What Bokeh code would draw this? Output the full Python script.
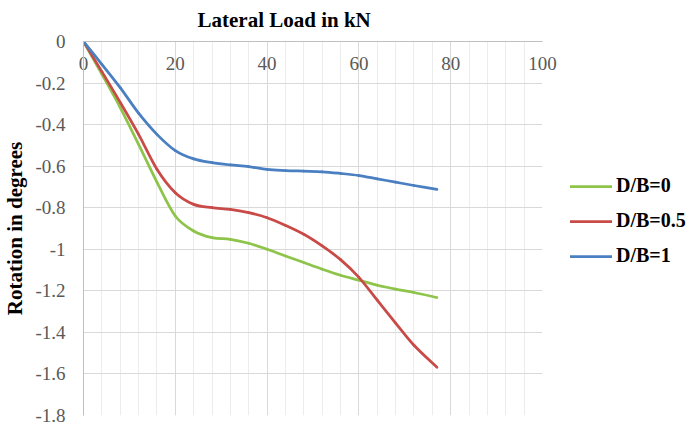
import numpy as np
from bokeh.plotting import figure
from bokeh.models import FixedTicker, Range1d, Legend, LegendItem
from bokeh.embed import file_html
from bokeh.resources import INLINE

# Lateral load (kN) at which rotations were read
load_kn = [0, 4, 8, 12, 16, 20, 24, 28, 32, 36, 40, 44, 48, 52, 56, 60, 64, 68, 72, 77]

# Rotation in degrees for each embedment ratio
rot_db0 = [0, -0.157, -0.318, -0.495, -0.677, -0.84, -0.912, -0.944, -0.952, -0.971,
           -1.0, -1.032, -1.064, -1.096, -1.125, -1.149, -1.173, -1.192, -1.208, -1.232]
rot_db05 = [0, -0.145, -0.293, -0.447, -0.615, -0.728, -0.784, -0.80, -0.808, -0.824,
            -0.848, -0.885, -0.928, -0.984, -1.05, -1.135, -1.245, -1.355, -1.462, -1.568]
rot_db1 = [0, -0.11, -0.222, -0.345, -0.447, -0.525, -0.565, -0.583, -0.594, -0.602,
           -0.616, -0.621, -0.624, -0.627, -0.635, -0.645, -0.661, -0.677, -0.693, -0.712]

series_names = ["D/B=0", "D/B=0.5", "D/B=1"]
series_colors = ["#8ec44a", "#c84b48", "#4a7fc1"]

x_ticks = [0, 20, 40, 60, 80, 100]
x_tick_labels = ["0", "20", "40", "60", "80", "100"]
x_minor = list(range(0, 101, 4))
y_ticks = [0, -0.2, -0.4, -0.6, -0.8, -1.0, -1.2, -1.4, -1.6, -1.8]
y_tick_labels = ["0", "-0.2", "-0.4", "-0.6", "-0.8", "-1", "-1.2", "-1.4", "-1.6", "-1.8"]

SERIF = "Liberation Serif"


def smooth_segments(xs, ys):
    """Cubic Bezier pieces through the points (Catmull-Rom style smoothing)."""
    x = np.asarray(xs, float)
    y = np.asarray(ys, float)
    xp = np.concatenate([[x[0]], x, [x[-1]]])
    yp = np.concatenate([[y[0]], y, [y[-1]]])
    n = len(x) - 1
    seg = dict(x0=x[:-1], y0=y[:-1], x1=x[1:], y1=y[1:])
    seg["cx0"] = x[:-1] + (xp[2:n + 2] - xp[0:n]) / 6.0
    seg["cy0"] = y[:-1] + (yp[2:n + 2] - yp[0:n]) / 6.0
    seg["cx1"] = x[1:] - (xp[3:n + 3] - xp[1:n + 1]) / 6.0
    seg["cy1"] = y[1:] - (yp[3:n + 3] - yp[1:n + 1]) / 6.0
    return seg


p = figure(frame_width=459, frame_height=374,
           min_border_left=83, min_border_right=147, min_border_top=41, min_border_bottom=12,
           x_range=Range1d(0, 100), y_range=Range1d(-1.8, 0),
           x_axis_location="above",
           output_backend="svg", toolbar_location=None,
           background_fill_color="white", border_fill_color="white")
p.outline_line_color = None

# title
p.title.text = "Lateral Load in kN"
p.title.text_font = SERIF
p.title.text_font_size = "21px"
p.title.text_font_style = "bold"
p.title.text_color = "black"
p.title.align = "left"
p.title.vertical_align = "top"
p.title.offset = 114
p.title.standoff = 15

# x axis along the zero line at the top; labels hang just below it
x_ticker = FixedTicker(ticks=x_ticks, minor_ticks=x_minor)
p.xaxis.ticker = x_ticker
p.xaxis.major_label_overrides = {t: l for t, l in zip(x_ticks, x_tick_labels)}
p.xaxis.major_label_text_font = SERIF
p.xaxis.major_label_text_font_size = "19px"
p.xaxis.major_label_text_color = "#595959"
p.xaxis.major_tick_line_color = None
p.xaxis.minor_tick_line_color = None
p.xaxis.major_tick_out = 0
p.xaxis.major_tick_in = 0
p.xaxis.major_label_standoff = -32
p.xaxis.axis_line_color = "#bfbfbf"
p.xgrid.ticker = x_ticker
p.xgrid.grid_line_color = "#d9d9d9"
p.xgrid.grid_line_width = 1
p.xgrid.minor_grid_line_color = "#ececec"
p.xgrid.minor_grid_line_width = 1

# y axis
y_ticker = FixedTicker(ticks=y_ticks, minor_ticks=[])
p.yaxis.ticker = y_ticker
p.ygrid.ticker = y_ticker
p.ygrid.grid_line_color = "#d9d9d9"
p.ygrid.grid_line_width = 1
p.yaxis.major_label_overrides = {t: l for t, l in zip(y_ticks, y_tick_labels)}
p.yaxis.major_label_text_font = SERIF
p.yaxis.major_label_text_font_size = "19px"
p.yaxis.major_label_text_color = "#595959"
p.yaxis.major_tick_line_color = None
p.yaxis.minor_tick_line_color = None
p.yaxis.major_tick_out = 0
p.yaxis.major_tick_in = 0
p.yaxis.major_label_standoff = 18
p.yaxis.axis_line_color = "#bfbfbf"
p.yaxis.axis_label = "Rotation in degrees"
p.yaxis.axis_label_text_font = SERIF
p.yaxis.axis_label_text_font_size = "21px"
p.yaxis.axis_label_text_font_style = "bold"
p.yaxis.axis_label_text_color = "black"
p.yaxis.axis_label_standoff = 5

items = []
for name, color, vals in zip(series_names, series_colors, [rot_db0, rot_db05, rot_db1]):
    seg = smooth_segments(load_kn, vals)
    r = p.bezier(x0=seg["x0"], y0=seg["y0"], x1=seg["x1"], y1=seg["y1"],
                 cx0=seg["cx0"], cy0=seg["cy0"], cx1=seg["cx1"], cy1=seg["cy1"],
                 line_color=color, line_width=2.75, line_cap="round")
    items.append(LegendItem(label=name, renderers=[r]))

legend = Legend(items=items, location=(28, 148),
                label_text_font=SERIF, label_text_font_size="20px",
                label_text_font_style="bold", label_text_color="black",
                glyph_width=42, glyph_height=20, label_standoff=4, spacing=12,
                padding=0, margin=0, border_line_color=None, background_fill_alpha=0)
p.add_layout(legend, "right")

open("out.html", "w").write(file_html(p, INLINE))
